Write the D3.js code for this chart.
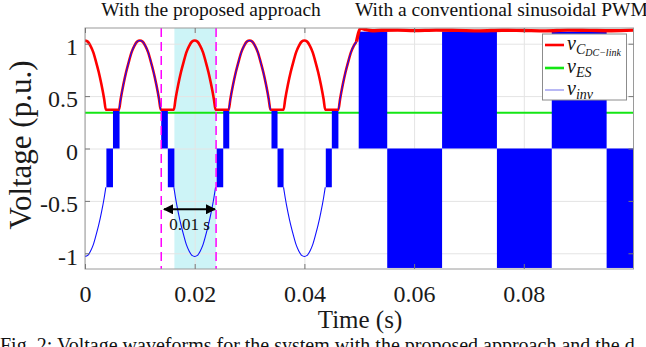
<!DOCTYPE html>
<html>
<head>
<meta charset="utf-8">
<script src="https://cdn.jsdelivr.net/npm/d3@7"></script>
<style>
  body { margin: 0; background: #fff; }
  svg { display: block; }
  text { font-family: "Liberation Serif", "Times New Roman", serif; }
</style>
</head>
<body>
<div id="chart"></div>
<script>
// axis ticks
const xTicks = [0, 0.02, 0.04, 0.06, 0.08];
const yTicks = [-1, -0.5, 0, 0.5, 1];

// energy storage voltage (flat line)
const esLevel = 0.34;

// one half-cycle hump of the rectified voltage, read from the 0.01 s peak
const humpOffsets = [-0.0038, -0.0035, -0.003, -0.0025, -0.002, -0.0015, -0.001, -0.0005, 0,
                     0.0005, 0.001, 0.0015, 0.002, 0.0025, 0.003, 0.0035, 0.0038];
const humpValues = [0.37, 0.47, 0.61, 0.73, 0.83, 0.92, 0.98, 1.02, 1.03,
                    1.02, 0.98, 0.92, 0.83, 0.73, 0.61, 0.47, 0.37];
const humpCenters = [0, 0.01, 0.02, 0.03, 0.04, 0.05];
const invSign = [-1, 1, -1, 1, -1, 1]; // polarity of v_inv on each hump

// dc-link voltage after switching to conventional SPWM
const dcTailT = [0.0503, 0.0512, 0.0524, 0.054, 0.057, 0.06, 0.064, 0.068, 0.072, 0.076,
                 0.08, 0.084, 0.088, 0.092, 0.096, 0.1];
const dcTailV = [1.147, 1.135, 1.124, 1.128, 1.13, 1.125, 1.13, 1.127, 1.123, 1.129,
                 1.126, 1.123, 1.13, 1.127, 1.124, 1.13];

// PWM pulses near zero crossings (proposed approach)
const pwmStart = [0.0039, 0.0051, 0.0139, 0.0151, 0.0240, 0.0252, 0.0340, 0.0351, 0.0439, 0.0450];
const pwmEnd   = [0.0051, 0.0063, 0.0151, 0.0163, 0.0252, 0.0263, 0.0351, 0.0362, 0.0450, 0.0462];
const pwmLevel = [-0.37, 0.37, 0.37, -0.37, -0.37, 0.37, 0.37, -0.37, -0.37, 0.37];

// conventional sinusoidal PWM blocks
const spwmStart = [0.0499, 0.0551, 0.0651, 0.0751, 0.0851, 0.0951];
const spwmEnd   = [0.0551, 0.0651, 0.0751, 0.0851, 0.0951, 0.1];
const spwmLevel = [1.115, -1.14, 1.115, -1.14, 1.115, -1.14];

// annotation
const dashT = [0.0139, 0.0239];
const shadeT = [0.0163, 0.0239];
const arrowT = [0.0144, 0.0237];
const arrowV = -0.58;

const W = 646, H = 347;
const x = d3.scaleLinear().domain([0, 0.1]).range([85, 633.5]);
const y = d3.scaleLinear().domain([-1.15, 1.15]).range([269, 28]);
const x0 = x.range()[0], x1 = x.range()[1], yTop = y.range()[1], yBot = y.range()[0];
const fmt = d => String(d); // plain hyphen minus like the reference

const svg = d3.select('#chart').append('svg').attr('width', W).attr('height', H);

svg.append('defs').html(
  '<clipPath id="plot"><rect x="' + x0 + '" y="' + yTop + '" width="' + (x1 - x0) + '" height="' + (yBot - yTop) + '"/></clipPath>' +
  '<marker id="ah" viewBox="0 0 10 10" refX="9" refY="5" markerWidth="5" markerHeight="5" orient="auto-start-reverse">' +
  '<path d="M0,0L10,5L0,10z" fill="#000"/></marker>');

// shaded interval
svg.append('rect')
  .attr('x', x(shadeT[0])).attr('y', yTop)
  .attr('width', x(shadeT[1]) - x(shadeT[0])).attr('height', yBot - yTop)
  .attr('fill', '#cdf4f7');

// grid
svg.append('g').attr('transform', 'translate(0,' + yBot + ')')
  .call(d3.axisBottom(x).tickValues(xTicks).tickSize(-(yBot - yTop)).tickFormat(''))
  .call(g => g.select('.domain').remove())
  .selectAll('line').attr('stroke', '#e4e4e4');
svg.append('g').attr('transform', 'translate(' + x0 + ',0)')
  .call(d3.axisLeft(y).tickValues(yTicks).tickSize(-(x1 - x0)).tickFormat(''))
  .call(g => g.select('.domain').remove())
  .selectAll('line').attr('stroke', '#e4e4e4');

const plot = svg.append('g').attr('clip-path', 'url(#plot)');

// v_ES
plot.append('line')
  .attr('x1', x0).attr('x2', x1).attr('y1', y(esLevel)).attr('y2', y(esLevel))
  .attr('stroke', '#14e614').attr('stroke-width', 2);

// PWM pulses and SPWM blocks
const pulses = pwmStart.map((t, i) => [t, pwmEnd[i], pwmLevel[i]])
  .concat(spwmStart.map((t, i) => [t, spwmEnd[i], spwmLevel[i]]));
plot.selectAll('.pulse').data(pulses).join('rect')
  .attr('x', d => x(d[0]))
  .attr('width', d => x(d[1]) - x(d[0]))
  .attr('y', d => Math.min(y(0), y(d[2])))
  .attr('height', d => Math.abs(y(d[2]) - y(0)))
  .attr('fill', '#0000ff');

function hump(c, sign, tMax) {
  return humpOffsets.map((o, i) => [c + o, sign * humpValues[i]])
    .filter(p => p[0] >= -1e-9 && p[0] <= tMax);
}

const line = d3.line().x(d => x(d[0])).y(d => y(d[1])).curve(d3.curveMonotoneX);

// v_C DC-link
const dcPts = humpCenters.flatMap(c => hump(c, 1, 0.0496));
plot.append('path').attr('d', line(dcPts))
  .attr('fill', 'none').attr('stroke', '#ff0000').attr('stroke-width', 2.6);
const tailPts = [dcPts[dcPts.length - 1]].concat(dcTailT.map((t, i) => [t, dcTailV[i]]));
plot.append('path').attr('d', line(tailPts))
  .attr('fill', 'none').attr('stroke', '#ff0000').attr('stroke-width', 3.4);

// v_inv thin trace
humpCenters.forEach((c, i) => {
  plot.append('path').attr('d', line(hump(c, invSign[i], 0.0496)))
    .attr('fill', 'none').attr('stroke', '#1010ff').attr('stroke-width', 1.1);
});

// dashed markers
svg.selectAll('.mark').data(dashT).join('line')
  .attr('x1', d => x(d)).attr('x2', d => x(d))
  .attr('y1', yTop).attr('y2', yBot)
  .attr('stroke', '#ff00ff').attr('stroke-width', 1.5).attr('stroke-dasharray', '9,5');

// 0.01 s arrow
svg.append('line')
  .attr('x1', x(arrowT[0])).attr('x2', x(arrowT[1]))
  .attr('y1', y(arrowV)).attr('y2', y(arrowV))
  .attr('stroke', '#000').attr('stroke-width', 2)
  .attr('marker-start', 'url(#ah)').attr('marker-end', 'url(#ah)');
svg.append('text')
  .attr('x', (x(arrowT[0]) + x(arrowT[1])) / 2).attr('y', y(arrowV) + 21)
  .attr('text-anchor', 'middle').attr('font-size', 17).attr('fill', '#111')
  .text('0.01 s');

// axes box and inward ticks
svg.append('rect')
  .attr('x', x0).attr('y', yTop).attr('width', x1 - x0).attr('height', yBot - yTop)
  .attr('fill', 'none').attr('stroke', '#9a9a9a').attr('stroke-width', 1);

const styleAxis = g => {
  g.attr('font-family', 'Liberation Serif');
  g.select('.domain').remove();
  g.selectAll('line').attr('stroke', '#777');
  g.selectAll('text').attr('fill', '#1a1a1a');
};
svg.append('g').attr('transform', 'translate(0,' + yBot + ')')
  .call(d3.axisBottom(x).tickValues(xTicks).tickSizeInner(-5).tickSizeOuter(0).tickPadding(16)
    .tickFormat(fmt))
  .attr('font-size', 24).call(styleAxis);
svg.append('g').attr('transform', 'translate(0,' + yTop + ')')
  .call(d3.axisTop(x).tickValues(xTicks).tickSizeInner(-5).tickSizeOuter(0).tickFormat(''))
  .call(styleAxis);
svg.append('g').attr('transform', 'translate(' + x0 + ',0)')
  .call(d3.axisLeft(y).tickValues(yTicks).tickSizeInner(-5).tickSizeOuter(0).tickPadding(7)
    .tickFormat(fmt))
  .attr('font-size', 24).call(styleAxis)
  .selectAll('text').attr('dy', '0.45em');
svg.append('g').attr('transform', 'translate(' + x1 + ',0)')
  .call(d3.axisRight(y).tickValues(yTicks).tickSizeInner(-5).tickSizeOuter(0).tickFormat(''))
  .call(styleAxis);

// axis titles
svg.append('text').attr('x', 360).attr('y', 328).attr('text-anchor', 'middle')
  .attr('font-size', 25).attr('fill', '#1a1a1a').text('Time (s)');
svg.append('text').attr('transform', 'translate(31,145) rotate(-90)').attr('text-anchor', 'middle')
  .attr('font-size', 31).attr('fill', '#1a1a1a').text('Voltage (p.u.)');

// section titles
svg.append('text').attr('x', 211).attr('y', 16).attr('text-anchor', 'middle')
  .attr('font-size', 19.5).attr('fill', '#111').text('With the proposed approach');
svg.append('text').attr('x', 355).attr('y', 16)
  .attr('font-size', 19.5).attr('fill', '#111').text('With a conventional sinusoidal PWM');

// caption (cut by the frame)
svg.append('text').attr('x', 0).attr('y', 352)
  .attr('font-size', 20).attr('fill', '#111')
  .text('Fig. 2:  Voltage waveforms for the system with the proposed approach and the d');

// legend
const legendNames = [['C', 'DC\u2212link'], ['ES', ''], ['inv', '']];
const legendColors = ['#ff0000', '#14e614', '#b8b8f4'];
const leg = svg.append('g');
leg.append('rect').attr('x', 542.5).attr('y', 34).attr('width', 84).attr('height', 66)
  .attr('fill', '#fff').attr('stroke', '#8c8c8c').attr('stroke-width', 1);
const ly = [45, 68, 90];
legendNames.forEach((n, i) => {
  leg.append('line').attr('x1', 545).attr('x2', 564).attr('y1', ly[i]).attr('y2', ly[i])
    .attr('stroke', legendColors[i]).attr('stroke-width', i === 2 ? 2 : 2.6);
  const t = leg.append('text').attr('x', 567).attr('y', ly[i] + 5)
    .attr('font-style', 'italic').attr('font-size', 20).attr('fill', '#111');
  t.append('tspan').text('v');
  t.append('tspan').attr('font-size', 14).attr('dy', 4).text(n[0]);
  if (n[1]) t.append('tspan').attr('font-size', 10).attr('dy', 2).text(n[1]);
});
</script>
</body>
</html>
